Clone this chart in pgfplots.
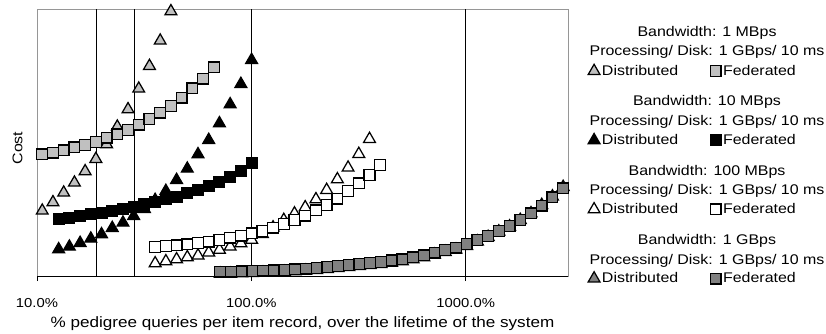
\documentclass[border=0pt]{standalone}
\usepackage{pgfplots}
\pgfplotsset{compat=1.18}
\usepackage{fontspec}
\setmainfont[FakeStretch=1.14]{Liberation Sans}
\definecolor{lgray}{RGB}{192,192,192}
\definecolor{dgray}{RGB}{128,128,128}
\definecolor{framec}{RGB}{150,150,150}
\newcommand{\lf}{\fontsize{14}{16}\selectfont}
\begin{document}
\begin{tikzpicture}
\useasboundingbox (-37pt,-57pt) rectangle (789pt,276pt);
\begin{axis}[
  at={(0pt,0pt)}, anchor=south west,
  scale only axis, width=531pt, height=267pt,
  xmode=log, xmin=10, xmax=3000, ymin=0, ymax=267,
  clip=false,
  axis line style={framec, line width=0.8pt},
  xtick={10,100,1000},
  xticklabels={10.0\%,100.0\%,1000.0\%},
  xminorticks=false,
  ytick=\empty,
  xtick pos=left,
  tick align=outside, major tick length=5pt,
  tick style={black, line width=0.8pt},
  extra x ticks={19,28.5,100,1000},
  extra x tick labels={},
  extra x tick style={grid=major, major tick length=0pt},
  major grid style={black, line width=0.8pt},
  xticklabel style={font=\fontsize{13}{15}\selectfont, anchor=base, yshift=-26pt},
  xlabel={\% pedigree queries per item record, over the lifetime of the system},
  every axis x label/.style={at={(axis description cs:0.5,0)}, anchor=base, yshift=-51pt, font=\fontsize{15}{17}\selectfont},
  ylabel={Cost},
  every axis y label/.style={at={(axis description cs:-0.0367,0.479)}, rotate=90, anchor=center, font=\lf},
  legend columns=2,
  legend cell align=left,
  legend image code/.code={\draw[#1] plot coordinates {(0pt,0pt)};},
  legend style={draw=none, fill=none, font=\lf, at={(axis description cs:1.032,0.805)}, anchor=north west,
     row sep=53.5pt, /tikz/every even column/.append style={column sep=30pt}},
]
% 1 MBps
\addplot[only marks, mark=triangle*, mark size=6.8pt, mark options={fill=lgray, draw=black, line width=1.25pt}] coordinates {
(10.58,65.3)(11.87,73.7)(13.32,83.3)(14.95,93.3)(16.77,104.7)(18.82,117)(21.12,131.7)(23.69,149.3)(26.59,166.7)(29.83,187.3)(33.47,210)(37.56,235.3)(42.14,264.7)};
\addlegendentry{Distributed}
\addplot[only marks, mark=square*, mark size=5.4pt, mark options={fill=lgray, draw=black, line width=1.25pt}] coordinates {
(10.58,121.7)(11.87,123.3)(13.32,125.7)(14.95,128.7)(16.77,131)(18.82,134)(21.12,138.3)(23.69,141.7)(26.59,146)(29.83,151.3)(33.47,157)(37.56,163.3)(42.14,170)(47.28,178.3)(53.05,187.7)(59.53,197.3)(66.79,208.7)};
\addlegendentry{Federated}
% 10 MBps
\addplot[only marks, mark=triangle*, mark size=6.8pt, mark options={fill=black, draw=black, line width=1.25pt}] coordinates {
(12.62,26.7)(14.16,29.3)(15.89,33)(17.83,37.3)(20.00,41.7)(22.44,48)(25.18,53.3)(28.25,60)(31.70,67)(35.57,76)(39.91,85)(44.78,96)(50.24,107.3)(56.37,121.7)(63.25,136)(70.97,152.7)(79.63,171.7)(89.35,192)(100.25,216)};
\addlegendentry{Distributed}
\addplot[only marks, mark=square*, mark size=5.4pt, mark options={fill=black, draw=black, line width=1.25pt}] coordinates {
(12.62,56.7)(14.16,58.3)(15.89,60)(17.83,61.7)(20.00,63.3)(22.44,65.3)(25.18,67)(28.25,69.3)(31.70,71.7)(35.57,74)(39.91,76.7)(44.78,79.3)(50.24,82.7)(56.37,86)(63.25,90)(70.97,94.3)(79.63,99.3)(89.35,105.3)(100.25,112.7)};
\addlegendentry{Federated}
% 100 MBps
\addplot[only marks, mark=triangle*, mark size=6.8pt, mark options={fill=white, draw=black, line width=1.25pt}] coordinates {
(35.58,12.7)(39.92,14.7)(44.79,16.7)(50.26,18.7)(56.39,20.5)(63.27,23.5)(70.99,26.2)(79.65,29.3)(89.37,32.7)(100.28,36.2)(112.51,42)(126.24,48.5)(141.64,56)(158.92,62.5)(178.31,68.7)(200.07,76.7)(224.48,86)(251.87,96.7)(282.60,108.3)(317.08,122)(355.77,137)};
\addlegendentry{Distributed}
\addplot[only marks, mark=square*, mark size=5.4pt, mark options={fill=white, draw=black, line width=1.25pt}] coordinates {
(35.58,29)(39.92,30)(44.79,30.7)(50.26,31.7)(56.39,33)(63.27,34.3)(70.99,36)(79.65,38.3)(89.37,40.3)(100.28,42.7)(112.51,45)(126.24,48.3)(141.64,52)(158.92,56)(178.31,60.3)(200.07,65.7)(224.48,71)(251.87,77.3)(282.60,85)(317.08,92.7)(355.77,101)(399.18,111)};
\addlegendentry{Federated}
% 1 GBps
\addplot[only marks, mark=triangle*, mark size=6.8pt, mark options={fill=dgray, draw=black, line width=1.25pt}] coordinates {
(71.52,2.3)(80.25,2.3)(90.04,2.7)(101.03,3)(113.36,3.3)(127.19,3.7)(142.71,4)(160.12,4.7)(179.66,5.3)(201.58,6)(226.18,7)(253.78,8)(284.74,9)(319.49,10)(358.47,11)(402.21,12)(451.29,13.5)(506.36,14.7)(568.15,16.7)(637.47,18.7)(715.26,21.3)(802.53,24)(900.46,26.3)(1010.34,30)(1133.62,34.5)(1271.95,39)(1427.15,44.5)(1601.30,49.5)(1796.69,56)(2015.93,62.7)(2261.92,71)(2537.92,79.5)(2847.6,89)};
\addlegendentry{Distributed}
\addplot[only marks, mark=square*, mark size=5.4pt, mark options={fill=dgray, draw=black, line width=1.25pt}] coordinates {
(71.52,4.3)(80.25,4.3)(90.04,4.7)(101.03,5)(113.36,5.3)(127.19,5.7)(142.71,6)(160.12,6.7)(179.66,7.3)(201.58,8)(226.18,9)(253.78,10)(284.74,11)(319.49,12)(358.47,13)(402.21,14)(451.29,15.5)(506.36,16.7)(568.15,18.7)(637.47,20.7)(715.26,23.3)(802.53,26)(900.46,28.3)(1010.34,32)(1133.62,36)(1271.95,40)(1427.15,45)(1601.30,50)(1796.69,56)(2015.93,62.7)(2261.92,70.3)(2537.92,78.7)(2847.6,87.7)};
\addlegendentry{Federated}
\draw[black, line width=0.8pt] (rel axis cs:0,0) -- (rel axis cs:1,0);
\end{axis}
\begin{scope}[every node/.style={anchor=base, font=\lf, inner sep=0pt}]
\node at (670pt,240pt) {Bandwidth: 1 MBps};
\node at (670pt,220.5pt) {Processing/ Disk: 1 GBps/ 10 ms};
\node at (670pt,170.5pt) {Bandwidth: 10 MBps};
\node at (670pt,151pt) {Processing/ Disk: 1 GBps/ 10 ms};
\node at (670pt,101pt) {Bandwidth: 100 MBps};
\node at (670pt,81.5pt) {Processing/ Disk: 1 GBps/ 10 ms};
\node at (670pt,31.5pt) {Bandwidth: 1 GBps};
\node at (670pt,12pt) {Processing/ Disk: 1 GBps/ 10 ms};
\end{scope}
\end{tikzpicture}
\end{document}
